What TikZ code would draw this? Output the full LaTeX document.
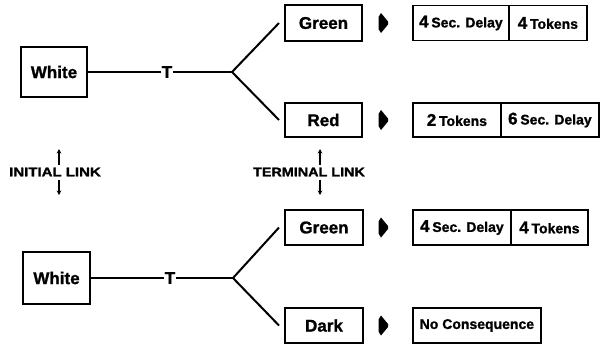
\documentclass[tikz,border=0pt]{standalone}
\usepackage{fontspec}
\usepackage{graphicx}
\setmainfont{Liberation Sans}[BoldFeatures={FakeBold=1.2}]
\usetikzlibrary{arrows.meta}
\newcommand{\numtx}[1]{{\fontsize{17}{17}\selectfont #1}}
\newcommand{\wrdtx}[1]{{\fontsize{14}{14}\selectfont #1}}
\tikzset{
  box/.style={draw, line width=2pt, inner sep=0pt, font=\bfseries\fontsize{17}{17}\selectfont},
  res/.style={draw, line width=1.8pt, inner sep=0pt, minimum height=35, font=\bfseries, anchor=west},
  conn/.style={line width=2pt},
  tlab/.style={font=\bfseries\fontsize{17}{17}\selectfont, inner sep=1pt},
  lab/.style={font=\bfseries\fontsize{12.5}{12.5}\selectfont, inner sep=0pt},
  smallarr/.style={line width=1.4pt, -{Stealth[length=4.5pt,width=4.5pt]}},
  marker/.style={fill=black},
}
\begin{document}
\begin{tikzpicture}[x=1pt,y=-1pt]
\useasboundingbox (0,0) rectangle (600,349);
% top row
\node[box, minimum width=66, minimum height=50] (w1) at (54,72) {White};
\node[tlab] (t1) at (167,72) {T};
\coordinate (f1) at (232,72);
\node[box, minimum width=77, minimum height=36] (g1) at (323.5,23) {Green};
\node[box, minimum width=77, minimum height=34] (r1) at (323.5,120) {Red};
\draw[conn] (w1.east) -- (t1.west);
\draw[conn] (t1.east) -- (f1);
\draw[conn] (f1) -- ([xshift=-5pt]g1.west);
\draw[conn] (f1) -- ([xshift=-5pt]r1.west);
% bottom row
\node[box, minimum width=67, minimum height=52] (w2) at (56.5,278) {White};
\node[tlab] (t2) at (170,278) {T};
\coordinate (f2) at (233,278);
\node[box, minimum width=78, minimum height=35] (g2) at (324,227.5) {Green};
\node[box, minimum width=78, minimum height=35] (d2) at (324,325.5) {Dark};
\draw[conn] (w2.east) -- (t2.west);
\draw[conn] (t2.east) -- (f2);
\draw[conn] (f2) -- ([xshift=-5pt]g2.west);
\draw[conn] (f2) -- ([xshift=-5pt]d2.west);
% markers
\foreach \n/\y in {m1/23, m2/120, m3/227.5, m4/325.5}{
  \coordinate (\n) at (383,\y);
  \fill[marker] ([shift={(-4.5,-6)}]\n) -- ([shift={(-2,-10)}]\n) -- ([shift={(5,-1.5)}]\n) -- ([shift={(5,1.5)}]\n) -- ([shift={(-2,10)}]\n) -- ([shift={(-4.5,6)}]\n) -- cycle;
}
% result boxes
\node[res, minimum width=96] (a1) at (412,23) {\numtx{4} \wrdtx{Sec. Delay}};
\node[res, minimum width=78] (b1) at (508,23) {\numtx{4} \wrdtx{Tokens}};
\node[res, minimum width=88, minimum height=34] (a2) at (412,120) {\numtx{2} \wrdtx{Tokens}};
\node[res, minimum width=98, minimum height=34] (b2) at (500,120) {\numtx{6} \wrdtx{Sec. Delay}};
\node[res, minimum width=98] (a3) at (412,227.5) {\numtx{4} \wrdtx{Sec. Delay}};
\node[res, minimum width=77] (b3) at (510,227.5) {\numtx{4} \wrdtx{Tokens}};
\node[res, minimum width=128] (c4) at (412,325.5) {\wrdtx{No Consequence}};
% link labels
\node[lab] (il) at (55,172) {\scalebox{1.2}[1]{INITIAL LINK}};
\coordinate (ilu) at (59,149);
\coordinate (ild) at (59,195);
\draw[smallarr] ([yshift=3pt]il.north -| ilu) -- (ilu);
\draw[smallarr] ([yshift=-3pt]il.south -| ild) -- (ild);
\node[lab] (tl) at (309,172) {\scalebox{1.15}[1]{TERMINAL LINK}};
\coordinate (tlu) at (320,149);
\coordinate (tld) at (320,195);
\draw[smallarr] ([yshift=3pt]tl.north -| tlu) -- (tlu);
\draw[smallarr] ([yshift=-3pt]tl.south -| tld) -- (tld);
\end{tikzpicture}
\end{document}
